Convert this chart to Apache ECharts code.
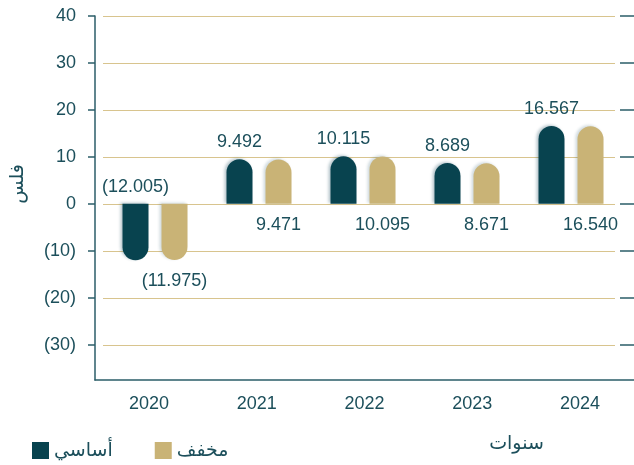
<!DOCTYPE html>
<html>
<head>
<meta charset="utf-8">
<script src="https://cdn.jsdelivr.net/npm/echarts@6/dist/echarts.min.js"></script>
<style>
  html, body { margin: 0; padding: 0; background: #fff; }
  #chart { width: 634px; height: 465px; }
</style>
</head>
<body>
<div id="chart"></div>
<script>
const years = ['2020', '2021', '2022', '2023', '2024'];
const basic = [-12.005, 9.492, 10.115, 8.689, 16.567];
const diluted = [-11.975, 9.471, 10.095, 8.671, 16.540];
const yTicks = [-30, -20, -10, 0, 10, 20, 30, 40];
const yMin = -37.5;
const yMax = 40;

const teal = '#08434f';
const gold = '#c9b376';
const ink = '#1c4f5b';
const font = 'Liberation Sans, DejaVu Sans, sans-serif';

function fmt(v) {
  return v < 0 ? '(' + Math.abs(v).toFixed(3) + ')' : v.toFixed(3);
}

// bars with rounded end, flipped for negative values
function items(arr) {
  return arr.map(v => ({
    value: v,
    itemStyle: { borderRadius: v < 0 ? [0, 0, 13, 13] : [13, 13, 0, 0] }
  }));
}

const hiddenCat = { type: 'category', data: years, show: false };
const baseY = { type: 'value', min: yMin, max: yMax, splitNumber: 8 };

const option = {
  animation: false,
  textStyle: { fontFamily: font },
  grid: [
    { left: 103, right: 11, top: 16, bottom: 85 },   // bars
    { left: 103, right: 19, top: 16, bottom: 85 },   // grid lines
    { left: 92, right: 0, top: 16, bottom: 85 }      // axes
  ],
  legend: {
    left: 27,
    top: 436,
    icon: 'rect',
    itemWidth: 17,
    itemHeight: 17,
    itemGap: 42,
    textStyle: { color: ink, fontSize: 19, fontFamily: font },
    data: ['أساسي', 'مخفف']
  },
  xAxis: [
    Object.assign({ gridIndex: 0 }, hiddenCat),
    Object.assign({ gridIndex: 1 }, hiddenCat),
    {
      gridIndex: 2,
      type: 'category',
      data: years,
      name: 'سنوات',
      nameLocation: 'middle',
      nameGap: 54,
      nameTextStyle: { color: ink, fontSize: 19, padding: [0, 0, 0, 304] },
      axisLine: { onZero: false, lineStyle: { color: '#2b5d68', width: 1.5 } },
      axisTick: { length: 7, lineStyle: { color: '#2b5d68', width: 1.5 } },
      axisLabel: { color: ink, fontSize: 18, margin: 15 }
    }
  ],
  yAxis: [
    Object.assign({ gridIndex: 0, show: false }, baseY),
    Object.assign({
      gridIndex: 1,
      axisLine: { show: false },
      axisTick: { show: false },
      axisLabel: { show: false },
      splitLine: { show: true, showMinLine: false, lineStyle: { color: '#d8c48e', width: 1.2 } }
    }, baseY),
    Object.assign({
      gridIndex: 2,
      name: 'فلس',
      nameLocation: 'middle',
      nameRotate: 90,
      nameGap: 68,
      nameTextStyle: { color: ink, fontSize: 19, padding: [0, 0, 0, 28] },
      axisLine: { show: true, lineStyle: { color: '#2b5d68', width: 1.5 } },
      axisTick: { show: true, length: 7, customValues: yTicks, lineStyle: { color: '#2b5d68', width: 1.5 } },
      axisLabel: {
        color: ink, fontSize: 18, margin: 19, customValues: yTicks,
        formatter: v => v < 0 ? '(' + Math.abs(v) + ')' : String(v)
      },
      splitLine: { show: false }
    }, baseY),
    Object.assign({
      gridIndex: 2,
      axisLine: { show: false },
      axisTick: { show: true, inside: true, length: 7, customValues: yTicks, lineStyle: { color: '#2b5d68', width: 1.5 } },
      axisLabel: { show: false },
      splitLine: { show: false }
    }, baseY),
    Object.assign({
      gridIndex: 2,
      position: 'right',
      axisLine: { show: false },
      axisTick: { show: true, inside: true, length: 14, customValues: yTicks, lineStyle: { color: '#2b5d68', width: 1.5 } },
      axisLabel: { show: false },
      splitLine: { show: false }
    }, baseY)
  ],
  series: [
    {
      name: 'أساسي',
      type: 'bar',
      xAxisIndex: 0,
      yAxisIndex: 0,
      data: items(basic),
      barWidth: 26,
      barGap: '50%',
      itemStyle: {
        color: teal,
        shadowColor: 'rgba(20, 70, 90, 0.3)',
        shadowBlur: 3,
        shadowOffsetX: -2,
        shadowOffsetY: -1
      },
      label: {
        show: true,
        position: 'top',
        distance: 8,
        color: ink,
        fontSize: 18,
        formatter: p => fmt(p.value)
      }
    },
    {
      name: 'مخفف',
      type: 'bar',
      xAxisIndex: 0,
      yAxisIndex: 0,
      data: items(diluted),
      barWidth: 26,
      itemStyle: {
        color: gold,
        shadowColor: 'rgba(20, 70, 90, 0.2)',
        shadowBlur: 3,
        shadowOffsetX: -2,
        shadowOffsetY: -1
      },
      label: {
        show: true,
        position: 'bottom',
        distance: 12,
        color: ink,
        fontSize: 18,
        formatter: p => fmt(p.value)
      }
    }
  ]
};

const chart = echarts.init(document.getElementById('chart'));
chart.setOption(option);
</script>
</body>
</html>
